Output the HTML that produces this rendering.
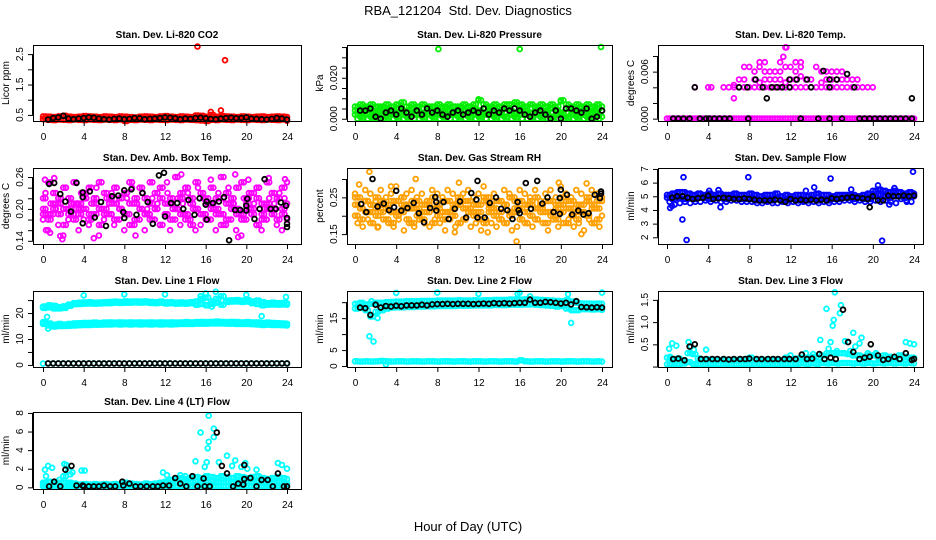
<!DOCTYPE html>
<html><head><meta charset="utf-8"><style>
html,body{margin:0;padding:0;background:#fff}
svg{display:block}
text{font-family:"Liberation Sans",sans-serif}
</style></head><body>
<svg id="chart" width="936" height="540" viewBox="0 0 936 540" xmlns="http://www.w3.org/2000/svg">
<rect width="936" height="540" fill="#fff"/>
<text x="468" y="15" text-anchor="middle" font-size="13" xml:space="preserve">RBA_121204  Std. Dev. Diagnostics</text>
<text x="468" y="531" text-anchor="middle" font-size="13">Hour of Day (UTC)</text>
</svg>
<script>
// ---------- data ----------
const xTicks = [0,4,8,12,16,20,24];
const panelTitles = ["Stan. Dev. Li-820 CO2","Stan. Dev. Li-820 Pressure","Stan. Dev. Li-820 Temp.","Stan. Dev. Amb. Box Temp.","Stan. Dev. Gas Stream RH","Stan. Dev. Sample Flow","Stan. Dev. Line 1 Flow","Stan. Dev. Line 2 Flow","Stan. Dev. Line 3 Flow","Stan. Dev. Line 4 (LT) Flow"];
const yLabels = ["Licor ppm","kPa","degrees C","degrees C","percent","ml/min","ml/min","ml/min","ml/min","ml/min"];
const hoursGrid = [0,0.5,1,1.5,2,2.5,3,3.5,4,4.5,5,5.5,6,6.5,7,7.5,8,8.5,9,9.5,10,10.5,11,11.5,12,12.5,13,13.5,14,14.5,15,15.5,16,16.5,17,17.5,18,18.5,19,19.5,20,20.5,21,21.5,22,22.5,23,23.5,24];
const hoursOff = [0.25,0.75,1.25,1.75,2.25,2.75,3.25,3.75,4.25,4.75,5.25,5.75,6.25,6.75,7.25,7.75,8.25,8.75,9.25,9.75,10.25,10.75,11.25,11.75,12.25,12.75,13.25,13.75,14.25,14.75,15.25,15.75,16.25,16.75,17.25,17.75,18.25,18.75,19.25,19.75,20.25,20.75,21.25,21.75,22.25,22.75,23.25,23.75];
const hoursBlack = [0.5,1,1.5,2,2.5,3,3.5,4,4.5,5,5.5,6,6.5,7,7.5,8,8.5,9,9.5,10,10.5,11,11.5,12,12.5,13,13.5,14,14.5,15,15.5,16,16.5,17,17.5,18,18.5,19,19.5,20,20.5,21,21.5,22,22.5,23,23.5,24];

// Panel 1 CO2
const co2RedA = [0.45,0.44,0.43,0.45,0.47,0.44,0.43,0.44,0.46,0.45,0.44,0.43,0.45,0.44,0.43,0.45,0.44,0.43,0.42,0.44,0.45,0.44,0.43,0.45,0.46,0.44,0.43,0.45,0.44,0.43,0.48,0.47,0.44,0.50,0.44,0.46,0.45,0.44,0.43,0.45,0.44,0.43,0.44,0.45,0.43,0.44,0.45,0.44,0.43];
const co2RedB = [0.36,0.34,0.33,0.35,0.34,0.33,0.35,0.34,0.33,0.35,0.34,0.33,0.35,0.34,0.33,0.35,0.30,0.34,0.33,0.35,0.34,0.33,0.35,0.34,0.33,0.35,0.34,0.33,0.35,0.34,0.33,0.32,0.30,0.34,0.33,0.35,0.34,0.33,0.35,0.34,0.33,0.35,0.34,0.33,0.35,0.34,0.33,0.35,0.31];
const co2OutX = [15.2,17.9,16.5,17.5];
const co2OutY = [2.75,2.3,0.6,0.65];
const co2Black = [0.35,0.40,0.42,0.47,0.38,0.36,0.38,0.40,0.42,0.41,0.38,0.36,0.35,0.37,0.38,0.36,0.37,0.40,0.39,0.36,0.37,0.38,0.40,0.42,0.41,0.39,0.36,0.38,0.37,0.40,0.41,0.39,0.37,0.36,0.38,0.40,0.41,0.39,0.40,0.42,0.38,0.37,0.36,0.35,0.37,0.40,0.38,0.35];

// Panel 2 Pressure
const presA = [0.006,0.007,0.006,0.007,0.006,0.006,0.007,0.006,0.007,0.008,0.006,0.007,0.006,0.007,0.006,0.006,0.007,0.006,0.007,0.006,0.006,0.007,0.006,0.007,0.009,0.007,0.006,0.007,0.006,0.007,0.007,0.008,0.007,0.006,0.007,0.006,0.007,0.006,0.007,0.006,0.009,0.007,0.006,0.007,0.006,0.007,0.006,0.007,0.006];
const presB = [0.004,0.003,0.005,0.004,0.003,0.005,0.004,0.003,0.005,0.004,0.003,0.005,0.004,0.003,0.005,0.004,0.003,0.005,0.004,0.003,0.005,0.004,0.003,0.005,0.004,0.003,0.005,0.004,0.003,0.005,0.004,0.003,0.005,0.004,0.003,0.005,0.004,0.003,0.005,0.004,0.003,0.005,0.004,0.003,0.005,0.004,0.003,0.005,0.004];
const presC = [0.002,0.001,0.002,0.001,0.002,0.002,0.001,0.002,0.001,0.002,0.001,0.002,0.002,0.001,0.002,0.001,0.002,0.001,0.002,0.002,0.001,0.002,0.001,0.002,0.001,0.002,0.002,0.001,0.002,0.001,0.002,0.001,0.002,0.002,0.001,0.002,0.001,0.002,0.001,0.002,0.002,0.001,0.002,0.001,0.002,0.001,0.002,0.002,0.001];
const presD = [0,0,0,0,0,0,0,0,0,0,0,0,0,0,0,0,0,0,0,0,0,0,0,0,0,0,0,0,0,0,0,0,0,0,0,0,0,0,0,0,0,0,0,0,0,0,0,0];
const presOutX = [8.1,16,23.9,12,20];
const presOutY = [0.034,0.034,0.035,0.0095,0.0085];
const presBlack = [0.004,0.004,0.005,0.001,0.000,0.003,0.004,0.002,0.005,0.003,0.001,0.004,0.002,0.005,0.003,0.004,0.002,0.001,0.003,0.004,0.002,0.003,0.004,0.003,0.005,0.002,0.004,0.003,0.005,0.004,0.005,0.004,0.002,0.001,0.003,0.004,0.002,0.000,0.004,0.000,0.005,0.005,0.004,0.003,0.005,0.000,0.001,0.004];

// Panel 3 Li-820 Temp
const tempZeroY = [0,0,0,0,0,0,0,0,0,0,0,0,0,0,0,0,0,0,0,0,0,0,0,0,0,0,0,0,0,0,0,0,0,0,0,0,0,0,0,0,0,0,0,0,0,0,0,0,0];
const temp4X = [2.7,4,4.3,5.5,6,6.5,7,7.5,8,8.5,9,9.5,10,10.5,11,11.5,12,12.5,13,13.5,14,14.5,15,15.5,16,16.5,17,17.5,18,18.5,19,19.5,20];
const temp4Y = [0.004,0.004,0.004,0.004,0.004,0.004,0.004,0.004,0.004,0.004,0.004,0.004,0.004,0.004,0.004,0.004,0.004,0.004,0.004,0.004,0.004,0.004,0.004,0.004,0.004,0.004,0.004,0.004,0.004,0.004,0.004,0.004,0.004];
const temp5X = [6.5,7,7.5,8.5,9,9.5,10,10.5,11,11.5,12,12.5,13,13.5,14,15,15.5,16,16.5,17,17.5,18,18.5];
const temp5Y = [0.0043,0.005,0.005,0.005,0.0046,0.005,0.005,0.005,0.005,0.0046,0.005,0.005,0.0054,0.005,0.005,0.0046,0.005,0.005,0.005,0.005,0.005,0.005,0.005];
const temp6X = [7.5,8,8.5,9,9.5,10,10.5,11,11.5,12,12.5,13,14.5,15,15.5,16,16.5,17];
const temp6Y = [0.0066,0.0066,0.006,0.0066,0.006,0.006,0.006,0.006,0.0066,0.0066,0.006,0.0066,0.0066,0.006,0.006,0.006,0.006,0.006];
const tempHiX = [9,9.5,11,11.3,11.5,11.6,12.5,13,6.5];
const tempHiY = [0.0072,0.0072,0.0072,0.0079,0.0091,0.0091,0.0072,0.0072,0.0026];
const tempBlackX = [0.6,1.1,1.6,2.2,3.2,3.8,4.1,4.6,5.1,5.6,6.1,7.9,13,14.7,15.8,17,18.7,19.2,19.7,20.2,20.7,21.2,21.7,22.2,22.7,23.2,23.8,2.7,7,7.8,9.3,10.2,10.7,11.2,11.9,14,15.8,18.2,8.6,11.9,12.6,13.6,15.8,16.5,15.2,17.5,9.7,23.8];
const tempBlackY = [0,0,0,0,0,0,0,0,0,0,0,0,0,0,0,0,0,0,0,0,0,0,0,0,0,0,0,0.004,0.004,0.004,0.004,0.004,0.004,0.004,0.004,0.004,0.004,0.004,0.005,0.005,0.005,0.005,0.005,0.005,0.0061,0.0057,0.0026,0.0026];

// Panel 4 Amb Box Temp
const ambA = [0.22,0.25,0.23,0.21,0.24,0.22,0.25,0.21,0.23,0.24,0.22,0.25,0.23,0.21,0.24,0.22,0.23,0.25,0.21,0.24,0.22,0.25,0.23,0.24,0.21,0.22,0.26,0.23,0.24,0.22,0.25,0.23,0.21,0.24,0.22,0.26,0.23,0.21,0.24,0.25,0.22,0.23,0.24,0.21,0.25,0.23,0.22,0.24,0.25];
const ambB = [0.20,0.19,0.21,0.22,0.20,0.19,0.21,0.20,0.22,0.19,0.21,0.20,0.19,0.22,0.21,0.20,0.19,0.21,0.22,0.20,0.19,0.21,0.20,0.22,0.19,0.21,0.20,0.22,0.19,0.21,0.20,0.19,0.22,0.21,0.20,0.19,0.21,0.22,0.20,0.19,0.21,0.20,0.22,0.19,0.21,0.20,0.22,0.19,0.21];
const ambC = [0.18,0.16,0.19,0.17,0.15,0.18,0.19,0.16,0.18,0.17,0.19,0.15,0.18,0.19,0.17,0.18,0.16,0.19,0.17,0.18,0.16,0.19,0.18,0.17,0.19,0.16,0.18,0.17,0.19,0.18,0.16,0.17,0.19,0.18,0.16,0.19,0.17,0.18,0.16,0.15,0.18,0.19,0.17,0.16,0.18,0.19,0.17,0.16,0.18];
const ambD = [0.23,0.21,0.20,0.22,0.24,0.21,0.20,0.23,0.22,0.21,0.24,0.20,0.22,0.23,0.21,0.20,0.22,0.24,0.21,0.23,0.20,0.22,0.21,0.24,0.23,0.20,0.22,0.21,0.23,0.20,0.24,0.22,0.21,0.20,0.23,0.22,0.24,0.21,0.20,0.22,0.23,0.21,0.24,0.20,0.22,0.21,0.23,0.22];
const ambE = [0.19,0.18,0.20,0.19,0.17,0.20,0.18,0.19,0.20,0.18,0.19,0.17,0.20,0.19,0.18,0.20,0.19,0.17,0.18,0.20,0.19,0.18,0.20,0.17,0.19,0.18,0.20,0.19,0.18,0.17,0.20,0.19,0.18,0.20,0.19,0.17,0.18,0.20,0.19,0.18,0.20,0.19,0.17,0.18,0.20,0.19,0.18,0.20];
const ambOutX = [0.2,1.1,1.7,1.9,5.0,13.6,16.5,18.9,19.2,20.2,22.2,23.8,12.2,3.4,9.1,0.3,0.7];
const ambOutY = [0.255,0.258,0.149,0.143,0.145,0.265,0.255,0.265,0.147,0.255,0.258,0.256,0.25,0.21,0.15,0.16,0.155];
const ambBlackX = [0.6,1.1,1.7,2.2,2.75,3.3,3.9,3.9,3.9,4.6,5.1,5.7,6.2,6.8,7.4,7.9,8.0,8.0,8.7,9.2,9.8,10.3,10.8,11.4,11.9,12.0,12.6,13.2,13.8,14.3,14.9,15.4,16.0,16.1,16.1,16.7,17.3,17.8,18.3,18.9,19.4,20.0,20.1,20.0,20.8,21.3,21.8,22.4,22.9,23.4,23.9,24,24,24];
const ambBlackY = [0.247,0.249,0.228,0.214,0.195,0.249,0.231,0.222,0.173,0.233,0.184,0.213,0.168,0.224,0.225,0.194,0.183,0.235,0.237,0.189,0.230,0.213,0.172,0.263,0.268,0.186,0.211,0.211,0.200,0.217,0.189,0.220,0.208,0.180,0.214,0.211,0.214,0.222,0.141,0.198,0.198,0.197,0.219,0.206,0.181,0.200,0.256,0.200,0.200,0.212,0.206,0.183,0.172,0.166];

// Panel 5 Gas stream RH
const rhA = [0.26,0.25,0.27,0.26,0.24,0.27,0.25,0.26,0.28,0.25,0.26,0.27,0.25,0.26,0.24,0.27,0.26,0.25,0.27,0.26,0.24,0.26,0.27,0.25,0.26,0.28,0.25,0.26,0.24,0.27,0.26,0.25,0.27,0.26,0.25,0.27,0.24,0.26,0.27,0.25,0.28,0.26,0.25,0.27,0.26,0.24,0.27,0.26,0.25];
const rhB = [0.23,0.22,0.24,0.23,0.22,0.24,0.23,0.21,0.24,0.23,0.22,0.24,0.22,0.23,0.24,0.22,0.23,0.21,0.24,0.22,0.23,0.24,0.22,0.23,0.21,0.24,0.23,0.22,0.24,0.23,0.21,0.24,0.22,0.23,0.24,0.22,0.23,0.21,0.24,0.22,0.23,0.24,0.22,0.23,0.21,0.24,0.23,0.22,0.24];
const rhC = [0.20,0.19,0.21,0.18,0.20,0.21,0.19,0.18,0.20,0.21,0.19,0.18,0.20,0.19,0.21,0.18,0.20,0.19,0.21,0.20,0.18,0.19,0.21,0.20,0.19,0.18,0.21,0.20,0.19,0.18,0.20,0.21,0.19,0.18,0.20,0.19,0.21,0.18,0.20,0.19,0.21,0.18,0.20,0.19,0.21,0.20,0.18,0.19,0.20];
const rhD = [0.25,0.22,0.24,0.21,0.25,0.23,0.22,0.24,0.21,0.25,0.23,0.22,0.24,0.21,0.23,0.25,0.22,0.24,0.21,0.23,0.25,0.22,0.24,0.21,0.23,0.25,0.22,0.24,0.21,0.23,0.25,0.22,0.24,0.21,0.23,0.25,0.22,0.24,0.21,0.23,0.25,0.22,0.24,0.21,0.23,0.25,0.22,0.24];
const rhE = [0.18,0.17,0.19,0.18,0.17,0.19,0.18,0.17,0.19,0.16,0.18,0.17,0.19,0.18,0.17,0.19,0.18,0.16,0.19,0.17,0.18,0.19,0.17,0.18,0.16,0.19,0.18,0.17,0.19,0.18,0.16,0.17,0.19,0.18,0.17,0.19,0.18,0.16,0.19,0.17,0.18,0.19,0.17,0.18,0.16,0.19,0.18,0.17,0.19];
const rhOutX = [1.4,0.4,22,15.7,9.7,12.9,2.2,10.1,19.8,22.5,5.9,3.5];
const rhOutY = [0.32,0.285,0.15,0.13,0.155,0.155,0.168,0.29,0.29,0.288,0.3,0.28];
const rhBlackX = [0.6,1.1,1.7,2.2,2.8,3.3,3.8,4.0,4.5,5.1,5.7,6.2,6.7,7.3,7.8,7.9,7.9,8.6,9.1,9.7,10.2,10.8,11.3,11.8,11.9,11.9,12.6,13.1,13.7,14.2,14.8,15.3,15.8,15.9,16.0,16.6,17.1,17.7,18.2,18.7,19.3,19.9,19.9,20.0,20.6,21.1,21.7,22.2,22.7,23.3,23.8,23.9,23.9];
const rhBlackY = [0.232,0.210,0.300,0.225,0.233,0.215,0.223,0.268,0.214,0.221,0.235,0.207,0.182,0.221,0.251,0.214,0.237,0.237,0.191,0.219,0.239,0.195,0.262,0.244,0.295,0.195,0.195,0.235,0.250,0.219,0.215,0.191,0.237,0.215,0.207,0.289,0.219,0.295,0.233,0.250,0.210,0.205,0.248,0.271,0.257,0.203,0.214,0.203,0.207,0.257,0.248,0.266,0.260];

// Panel 6 Sample flow
const flowA = [5.1,5.2,5.3,5.3,5.2,5.1,5.2,5.1,5.2,5.1,5.2,5.1,5.1,5.2,5.1,5.1,5.2,5.1,5.0,5.1,5.1,5.2,5.0,5.1,5.0,5.1,5.1,5.0,5.1,5.2,5.1,5.1,5.0,5.1,5.1,5.1,5.1,5.0,5.1,5.2,5.4,5.5,5.4,5.3,5.4,5.3,5.2,5.3,5.2];
const flowB = [4.9,4.8,4.9,4.8,4.9,4.8,4.9,4.9,4.8,4.9,4.9,4.8,4.9,4.9,4.8,4.8,4.8,4.7,4.7,4.7,4.7,4.8,4.7,4.7,4.8,4.7,4.7,4.7,4.8,4.7,4.8,4.7,4.8,4.8,4.9,4.9,4.8,4.9,4.8,4.8,5.0,5.1,5.0,4.9,5.0,5.0,4.9,5.0,5.0];
const flowC = [4.6,4.4,4.5,4.6,4.5,4.6,4.6,4.7,4.6,4.7,4.6,4.6,4.7,4.7,4.6,4.6,4.6,4.5,4.5,4.6,4.5,4.5,4.6,4.5,4.6,4.5,4.6,4.5,4.6,4.5,4.6,4.5,4.6,4.6,4.7,4.7,4.6,4.7,4.6,4.6,4.7,4.6,4.7,4.6,4.5,4.8,4.7,4.6,4.8];
const flowOutX = [1.6,1.5,1.9,7.9,15.9,23.9,20.9,14.3,13.5,5.2,0.3,20.5,17.9,22.1,21.6,23.3,4.1,5.0,0.5];
const flowOutY = [6.4,3.3,1.8,6.4,6.3,6.8,1.75,5.65,5.4,4.2,4.15,5.8,5.5,5.6,4.4,4.6,5.4,5.45,4.3];
const flowBlack = [4.9,5.0,5.0,4.9,4.8,4.85,4.9,5.05,4.8,4.85,4.9,4.85,4.8,4.8,4.85,4.8,4.75,4.7,4.7,4.7,4.75,4.7,4.6,4.8,4.7,4.75,4.7,4.75,4.7,4.75,4.7,4.85,4.8,4.85,4.9,4.95,4.9,4.85,4.8,5.0,4.7,4.7,5.05,5.0,5.0,5.05,5.0,5.05];
const flowBlackOutX = [19.7];
const flowBlackOutY = [4.2];

// Panel 7 Line 1 flow
const l1UpperA = [22.5,23,22.8,22.3,22.6,23.3,23.8,24,24.1,24.2,24,24.1,24.2,24.3,24.4,24.3,24.5,24.4,24.5,24.4,24.5,24.3,24.2,24.4,24.1,24.2,24,24.1,24,24.2,24.5,25.5,26,24.5,25.5,26.5,24.8,24.9,25,24.8,25,24.5,24.8,24.2,23.8,24,23.8,23.9,23.8];
const l1UpperB = [22,22.2,21.8,21.8,22,22.8,23.4,23.5,23.6,23.7,23.6,23.7,23.8,23.8,24,23.9,24,24,24.1,24,24.1,23.9,23.8,24,23.7,23.8,23.6,23.7,23.6,23.8,23.2,23.5,23,23.5,24,23.2,24.3,24.4,24.5,24.3,24.4,23.8,23.5,23,23.2,23.3,23.2,23.3,23.2];
const l1MidA = [16.5,16,15.5,15.8,15.6,15.8,16,16.1,16.2,16.2,16.3,16.2,16.3,16.4,16.3,16.4,16.3,16.4,16.3,16.4,16.3,16.4,16.3,16.4,16.3,16.4,16.3,16.4,16.5,16.4,16.5,16.6,16.5,16.6,16.7,16.6,16.5,16.6,16.5,16.4,16.5,16.4,16.4,16.2,16.3,16.2,16.1,16.0,15.9];
const l1MidB = [15.8,15.2,14.8,15,15,15.1,15.2,15.3,15.4,15.4,15.5,15.5,15.6,15.6,15.7,15.6,15.7,15.6,15.7,15.6,15.7,15.6,15.7,15.6,15.7,15.6,15.7,15.8,15.8,15.8,15.9,15.9,15.9,16,16,16,15.9,15.9,15.8,15.8,15.8,15.7,15.6,15.4,15.5,15.4,15.4,15.3,15.2];
const l1Low = [0.5,0.6,0.5,0.6,0.5,0.6,0.5,0.6,0.5,0.6,0.5,0.6,0.5,0.6,0.5,0.6,0.5,0.6,0.5,0.6,0.5,0.6,0.5,0.6,0.5,0.6,0.5,0.6,0.5,0.6,0.5,0.6,0.5,0.6,0.5,0.6,0.5,0.6,0.5,0.6,0.5,0.6,0.5,0.6,0.5,0.6,0.5,0.6,0.5];
const l1OutX = [4,8,12,20,17,16,15.5,0.4,0.5,21.5,23.9,16.6];
const l1OutY = [26.8,27.2,27.2,27,28.2,27.5,26.5,18.5,14,18.8,26.2,22.5];
const l1Black = [0.6,0.6,0.6,0.6,0.6,0.6,0.6,0.6,0.6,0.6,0.6,0.6,0.6,0.6,0.6,0.6,0.6,0.6,0.6,0.6,0.6,0.6,0.6,0.6,0.6,0.6,0.6,0.6,0.6,0.6,0.6,0.6,0.6,0.6,0.6,0.6,0.6,0.6,0.6,0.6,0.6,0.6,0.6,0.6,0.6,0.6,0.6,0.6];

// Panel 8 Line 2 flow
const l2TopA = [19.5,19.8,19.3,19.5,19.8,19.8,20,20.1,20.2,20.2,20.3,20.3,20.3,20.4,20.4,20.4,20.5,20.5,20.5,20.5,20.6,20.5,20.5,20.6,20.5,20.6,20.6,20.7,20.7,20.7,20.8,20.8,20.8,20.9,20.8,20.8,20.7,20.6,20.5,20.4,20.3,20.6,20.2,19.8,19.6,19.6,19.5,19.6,19.5];
const l2TopB = [18,18.2,17.5,15.5,17,17.5,18,18.3,18.4,18.4,18.5,18.5,18.6,18.6,18.7,18.7,18.8,18.8,18.8,18.8,18.9,18.9,18.9,19,19,19,19,19.1,19.1,19.1,19.2,19.2,19.2,19.3,19.3,19.2,19.1,19,18.9,18.6,18.8,18,17.5,17.5,17.8,17.8,17.7,17.8,17.6];
const l2Bottom = [1.5,1.4,1.5,1.4,1.5,1.6,1.5,1.4,1.5,1.5,1.4,1.5,1.5,1.4,1.5,1.5,1.4,1.5,1.5,1.4,1.5,1.5,1.4,1.5,1.5,1.4,1.5,1.5,1.4,1.5,1.5,1.4,1.8,1.5,1.4,1.5,1.5,1.4,1.5,1.5,1.4,1.5,1.5,1.4,1.5,1.5,1.4,1.5,1.4];
const l2OutX = [1.4,1.8,1.6,4,8,12,16,24,20.7,21,15.8,17,3,2.2];
const l2OutY = [9.3,7.7,20.3,22.9,23,22.6,23,23,22.5,13.5,22.6,21.8,0.5,15];
const l2Black = [18.3,18.1,16.0,19.2,18.3,18.8,18.6,18.9,18.7,19.0,19.0,19.0,19.2,19.0,19.3,19.4,19.4,19.5,19.4,19.5,19.5,19.5,19.4,19.5,19.6,19.5,19.7,19.6,19.7,19.6,19.7,19.8,19.8,20.8,19.8,19.8,20.1,20.0,19.8,19.6,19.8,19.3,20.3,18.5,18.4,18.3,18.4,18.3];

// Panel 9 Line 3 flow
const l3A = [0.05,0.06,0.05,0.07,0.1,0.06,0.05,0.05,0.06,0.05,0.05,0.06,0.05,0.05,0.06,0.05,0.05,0.06,0.05,0.05,0.06,0.05,0.05,0.06,0.05,0.06,0.07,0.06,0.07,0.06,0.08,0.07,0.08,0.07,0.08,0.08,0.07,0.08,0.07,0.08,0.07,0.08,0.07,0.08,0.07,0.08,0.07,0.08,0.07];
const l3B = [0.2,0.15,0.18,0.14,0.3,0.28,0.18,0.15,0.16,0.15,0.14,0.15,0.14,0.15,0.14,0.15,0.2,0.15,0.14,0.15,0.14,0.15,0.14,0.2,0.15,0.18,0.2,0.2,0.22,0.2,0.25,0.3,0.3,0.3,0.3,0.28,0.25,0.25,0.22,0.25,0.25,0.2,0.25,0.22,0.2,0.25,0.22,0.2,0.2];
const l3OutX = [0.2,0.5,0.9,2.1,2.3,2.6,3.8,14.9,15.5,15.9,16.1,16.2,16.3,16.8,16.9,17.3,17.6,18.1,18.3,18.7,18.9,19.5,23.2,23.6,24,20.3,12,13.5,14.2,15.7,16.5,17.8,0.3];
const l3OutY = [0.4,0.52,0.47,0.55,0.45,0.38,0.38,0.6,1.3,0.55,0.92,1.05,1.67,1.2,1.38,0.57,0.55,0.76,0.45,0.52,0.65,0.3,0.55,0.52,0.5,0.3,0.25,0.3,0.28,0.4,0.35,0.35,0.22];
const l3BlackX = [0.6,1.1,1.7,2.2,2.7,3.3,3.8,4.4,4.9,5.5,6.0,6.5,7.1,7.6,8.0,8.7,9.2,9.8,10.3,10.8,11.4,11.9,12.5,13.1,13.6,14.1,14.8,15.3,15.9,16.4,17.1,17.6,18.1,18.7,19.2,19.8,19.7,20.5,21.0,21.5,22.1,22.6,23.2,23.8,24.0];
const l3BlackY = [0.17,0.18,0.14,0.45,0.5,0.17,0.17,0.17,0.17,0.17,0.16,0.17,0.17,0.17,0.18,0.17,0.17,0.17,0.17,0.17,0.17,0.17,0.17,0.27,0.17,0.18,0.28,0.17,0.2,0.17,1.28,0.55,0.33,0.17,0.2,0.5,0.22,0.25,0.15,0.17,0.22,0.17,0.3,0.15,0.17];

// Panel 10 Line 4 (LT) flow
const l4A = [0.1,0.1,0.1,0.1,0.1,0.1,0.1,0.1,0.1,0.1,0.1,0.1,0.1,0.1,0.1,0.1,0.1,0.1,0.1,0.1,0.1,0.1,0.1,0.1,0.1,0.1,0.1,0.1,0.1,0.1,0.1,0.1,0.1,0.1,0.1,0.1,0.1,0.1,0.1,0.1,0.1,0.1,0.1,0.1,0.1,0.1,0.1,0.1,0.1];
const l4B = [0.5,0.6,0.4,0.5,1.2,0.5,0.4,0.3,0.35,0.3,0.35,0.3,0.35,0.3,0.35,0.3,0.5,0.4,0.35,0.3,0.4,0.35,0.4,0.5,0.6,0.8,0.9,1.0,0.9,1.0,1.1,1.0,1.2,1.1,1.0,1.2,1.1,1.0,1.2,1.1,1.0,1.1,1.2,1.0,0.9,1.0,1.1,1.0,0.9];
const l4C = [0.3,0.2,0.3,0.2,0.5,0.3,0.2,0.2,0.2,0.2,0.2,0.2,0.2,0.2,0.2,0.2,0.3,0.2,0.2,0.2,0.2,0.2,0.2,0.3,0.3,0.4,0.5,0.5,0.6,0.6,0.7,0.6,0.6,0.7,0.6,0.5,0.6,0.5,0.6,0.5,0.6,0.5,0.6,0.5,0.4,0.5,0.6,0.5,0.4];
const l4OutX = [0.2,0.3,0.5,0.9,2.1,2.3,2.5,2.7,2.9,3.8,4.1,11.8,12.2,15,15.5,15.9,16.1,16.2,16.3,16.3,16.8,16.8,17.3,18.1,18.6,18.9,19.5,19.9,20.1,21,23.1,23.5,24,14,13.5,1.6];
const l4OutY = [1.9,1.2,2.3,2.1,2.5,2.4,1.8,1.4,1.6,1.8,1.8,1.6,1.3,2.8,5.9,2.2,2.7,4.2,4.9,7.7,5.4,6.3,2.7,3.4,2.3,2.9,2.2,2.6,2.0,1.9,2.6,2.4,2.0,1.2,1.3,0.8];
const l4BlackX = [0.6,1.1,1.7,2.2,2.8,3.3,3.9,4.0,4.5,5,5.5,6,6.6,7.1,7.8,7.9,8.5,9.1,9.6,10.2,10.8,11.3,11.8,12.4,13,13.5,14.1,14.7,15.2,15.8,15.9,16.4,17.1,17.6,18.1,18.7,19.2,19.8,19.8,19.7,20.4,21,21.5,22.1,22.6,23.1,23.7,24];
const l4BlackY = [0.1,0.6,0.1,1.9,2.3,0.2,0.2,0.1,0.1,0.1,0.1,0.2,0.1,0.1,0.6,0.2,0.4,0.1,0.1,0.1,0.1,0.1,0.2,0.2,1.0,0.4,0.1,1.2,0.1,0.95,0.1,0.1,5.9,2.3,1.5,0.1,0.4,2.4,0.9,0.3,1.0,0.1,0.8,0.8,0.1,1.5,0.1,0.1];

// ---------- layout ----------
const cols = [{l:33,r:301,x0:43,x24:287},{l:347,r:612,x0:355,x24:602},{l:658,r:923,x0:667,x24:914}];
const rows = [{t:45,b:121},{t:168,b:244},{t:291,b:367},{t:412,b:489}];
const CY="#00FFFF", PK="#FF00FF", OR="#FFA000", GR="#00EE00", BL="#0000FF";
const panels = [
 {c:0,r:0,ylim:[0.30,2.80],ticks:[0.5,1,1.5,2,2.5],labels:["0.5","1.5","2.5"],
  series:[[hoursGrid,co2RedA,"#FF0000"],[hoursOff,co2RedB,"#FF0000"],[hoursGrid,co2RedB,"#FF0000"],[hoursOff,co2RedA,"#FF0000"],[co2OutX,co2OutY,"#FF0000"],[hoursBlack,co2Black,"#000"]]},
 {c:1,r:0,ylim:[-0.0011,0.036],ticks:[0,0.005,0.01,0.015,0.02,0.025,0.03,0.035],labels:["0.000","0.020"],
  series:[[hoursGrid,presA,GR],[hoursOff,presA,GR],[hoursOff,presB,GR],[hoursGrid,presC,GR],[hoursOff,presC,GR],[hoursOff,presD,GR],[hoursGrid,presB,GR],[presOutX,presOutY,GR],[hoursBlack,presBlack,"#000"]]},
 {c:2,r:0,ylim:[-0.0003,0.0094],ticks:[0,0.002,0.004,0.006,0.008],labels:["0.000","0.006"],
  series:[[hoursGrid,tempZeroY,PK],[hoursOff,tempZeroY,PK],[temp4X,temp4Y,PK],[temp5X,temp5Y,PK],[temp6X,temp6Y,PK],[tempHiX,tempHiY,PK],[tempBlackX,tempBlackY,"#000"]]},
 {c:0,r:1,ylim:[0.134,0.277],ticks:[0.14,0.16,0.18,0.2,0.22,0.24,0.26],labels:["0.14","0.20","0.26"],
  series:[[hoursGrid,ambA,PK],[hoursGrid,ambB,PK],[hoursGrid,ambC,PK],[hoursOff,ambD,PK],[hoursOff,ambE,PK],[hoursOff,ambB,PK],[hoursOff,ambA,PK],[hoursGrid,ambE,PK],[ambOutX,ambOutY,PK],[ambBlackX,ambBlackY,"#000"]]},
 {c:1,r:1,ylim:[0.123,0.33],ticks:[0.15,0.2,0.25,0.3],labels:["0.15","0.25"],
  series:[[hoursGrid,rhA,OR],[hoursGrid,rhB,OR],[hoursGrid,rhC,OR],[hoursOff,rhD,OR],[hoursOff,rhE,OR],[hoursOff,rhB,OR],[hoursOff,rhC,OR],[hoursGrid,rhD,OR],[rhOutX,rhOutY,OR],[rhBlackX,rhBlackY,"#000"]]},
 {c:2,r:1,ylim:[1.51,7.07],ticks:[2,3,4,5,6,7],labels:["2","3","4","5","6","7"],
  series:[[hoursGrid,flowA,BL],[hoursOff,flowA,BL],[hoursOff,flowB,BL],[hoursGrid,flowB,BL],[hoursOff,flowC,BL],[flowOutX,flowOutY,BL],[hoursBlack,flowBlack,"#000"],[flowBlackOutX,flowBlackOutY,"#000"]]},
 {c:0,r:2,ylim:[-0.8,28.5],ticks:[0,5,10,15,20,25],labels:["0","10","20"],
  series:[[hoursGrid,l1UpperA,CY],[hoursOff,l1UpperB,CY],[hoursGrid,l1UpperB,CY],[hoursOff,l1UpperA,CY],[hoursGrid,l1MidA,CY],[hoursOff,l1MidB,CY],[hoursGrid,l1MidB,CY],[hoursOff,l1MidA,CY],[hoursGrid,l1Low,CY],[l1OutX,l1OutY,CY],[hoursBlack,l1Black,"#000"]]},
 {c:1,r:2,ylim:[-0.3,23.5],ticks:[0,5,10,15,20],labels:["0","5","15"],
  series:[[hoursGrid,l2TopA,CY],[hoursOff,l2TopA,CY],[hoursOff,l2TopB,CY],[hoursGrid,l2TopB,CY],[hoursGrid,l2Bottom,CY],[hoursOff,l2Bottom,CY],[l2OutX,l2OutY,CY],[hoursBlack,l2Black,"#000"]]},
 {c:2,r:2,ylim:[-0.01,1.7],ticks:[0,0.5,1,1.5],labels:["0.5","1.0","1.5"],
  series:[[hoursGrid,l3A,CY],[hoursOff,l3A,CY],[hoursGrid,l3B,CY],[hoursOff,l3B,CY],[l3OutX,l3OutY,CY],[l3BlackX,l3BlackY,"#000"]]},
 {c:0,r:3,ylim:[-0.18,8.1],ticks:[0,2,4,6,8],labels:["0","2","4","6","8"],
  series:[[hoursGrid,l4A,CY],[hoursOff,l4A,CY],[hoursGrid,l4B,CY],[hoursOff,l4B,CY],[hoursGrid,l4C,CY],[hoursOff,l4C,CY],[l4OutX,l4OutY,CY],[l4BlackX,l4BlackY,"#000"]]}
];

const NS="http://www.w3.org/2000/svg";
const svg=document.getElementById('chart');
function mk(tag,attrs,parent){const e=document.createElementNS(NS,tag);for(const k in attrs)e.setAttribute(k,attrs[k]);(parent||svg).appendChild(e);return e;}

panels.forEach((p,pi)=>{
  const C=cols[p.c],R=rows[p.r];
  const sx=h=>C.x0+(h/24)*(C.x24-C.x0);
  const sy=v=>R.b-(v-p.ylim[0])/(p.ylim[1]-p.ylim[0])*(R.b-R.t);
  const g=mk('g',{});
  
  
  const title=mk('text',{x:(C.l+C.r)/2,y:R.t-7,'text-anchor':'middle','font-size':'10','font-weight':'bold'},g);
  title.textContent=panelTitles[pi];
  
  
  const pts=mk('g',{fill:'none','stroke-width':'1.8'},g);
  
  
  p.series.forEach(s=>{
    const xs=s[0],ys=s[1];
    for(let i=0;i<ys.length;i++){
      if(ys[i]==null||xs[i]==null)continue;
      const c=mk('circle',{cx:sx(xs[i]).toFixed(1),cy:sy(ys[i]).toFixed(1),r:'2.4',stroke:s[2]},pts);
      
      
    }
  });
  const box=mk('rect',{x:C.l+0.5,y:R.t+0.5,width:C.r-C.l,height:R.b-R.t,fill:'none',stroke:'#000','stroke-width':'1'},g);
  
  
  const xa=mk('g',{stroke:'#000','stroke-width':'1'},g);
  
  
  mk('line',{x1:sx(0),x2:sx(24),y1:R.b+0.5,y2:R.b+0.5},xa);
  xTicks.forEach(t=>{
    mk('line',{x1:sx(t)+0.5,x2:sx(t)+0.5,y1:R.b,y2:R.b+5},xa);
    const tx=mk('text',{x:sx(t)+0.5,y:R.b+19,'text-anchor':'middle','font-size':'10',stroke:'none',fill:'#000'},g);
    tx.textContent=t;
    
    
  });
  const ya=mk('g',{stroke:'#000','stroke-width':'1'},g);
  
  
  const t0=p.ticks[0],t1=p.ticks[p.ticks.length-1];
  mk('line',{x1:C.l-0.5,x2:C.l-0.5,y1:sy(t0),y2:sy(t1)},ya);
  p.ticks.forEach(t=>{
    mk('line',{x1:C.l-5,x2:C.l,y1:sy(t)+0.5,y2:sy(t)+0.5},ya);
  });
  p.labels.forEach(l=>{
    const v=parseFloat(l),x=C.l-10,y=sy(v);
    const tx=mk('text',{x:x,y:y,'text-anchor':'middle','font-size':'10',transform:`rotate(-90 ${x} ${y})`},g);
    tx.textContent=l;
    
    
  });
  const lx=C.l-24,ly=(R.t+R.b)/2;
  const yl=mk('text',{x:lx,y:ly,'text-anchor':'middle','font-size':'10',transform:`rotate(-90 ${lx} ${ly})`},g);
  yl.textContent=yLabels[pi];
  
  
});
</script>
</body></html>
